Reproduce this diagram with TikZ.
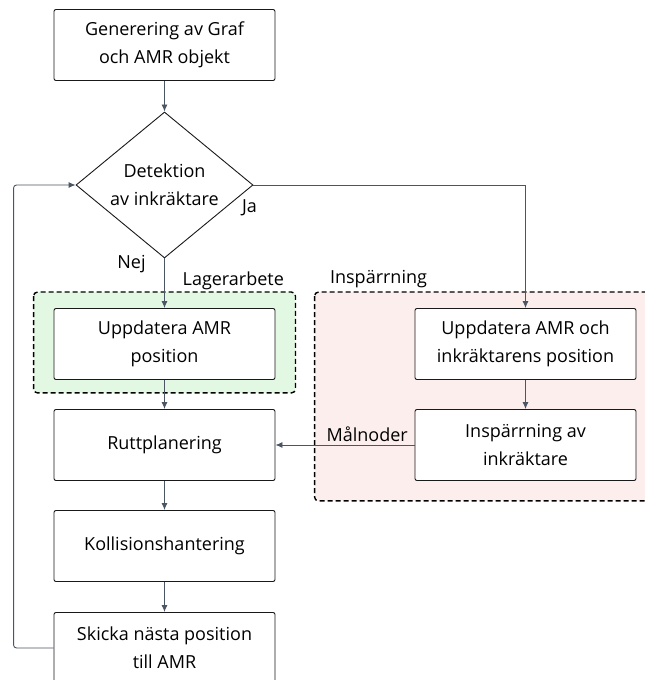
\documentclass[tikz,border=0pt]{standalone}
\usepackage{fontspec}
\setmainfont{Open Sans}
\usetikzlibrary{shapes,arrows.meta,calc,backgrounds}
\definecolor{linegray}{HTML}{4B5563}
\definecolor{lagerfill}{HTML}{E3F8E2}
\definecolor{sparrfill}{HTML}{FDEEEE}
\tikzstyle{block} = [draw=black!90, line width=0.9pt, fill=white, rectangle, rounded corners=2pt, minimum height=71pt, minimum width=221pt, align=center]
\tikzstyle{decision} = [draw=black!90, line width=0.9pt, fill=white, diamond, aspect=1.2, inner sep=0pt, minimum width=177pt, minimum height=146pt, align=center]
\tikzstyle{group} = [draw=black, line width=1.4pt, rounded corners=4pt, dash pattern=on 5pt off 3pt]
\tikzstyle{line} = [draw=linegray, line width=0.9pt]

\begin{document}
\begin{tikzpicture}[auto, x=1pt, y=1pt, node distance=101pt, >={Latex[length=7pt,width=6pt]}]
    \tikzset{font={\fontsize{18pt}{28pt}\selectfont}}
    \useasboundingbox (0,0) rectangle (645,680);
    \node [block] (gen) at (164.5,635) {Generering av Graf\\ och AMR objekt};
    \node [decision, below of=gen, node distance=140pt] (det) {Detektion\\ av inkräktare};
    \node [block, below of=det, node distance=159pt] (upd) {Uppdatera AMR\\ position};
    \node [block, below of=upd] (rutt) {Ruttplanering};
    \node [block, below of=rutt] (koll) {Kollisionshantering};
    \node [block, below of=koll, node distance=102pt] (skicka) {Skicka nästa position\\ till AMR};
    \node [block, right of=upd, node distance=361pt] (updink) {Uppdatera AMR och\\ inkräktarens position};
    \node [block, below of=updink] (spärr) {Inspärrning av\\ inkräktare};
    % grupper
    \begin{scope}[on background layer]
      \draw [group, fill=lagerfill] ($(upd.north west)+(-20,16)$) rectangle ($(upd.south east)+(20,-13)$);
      \draw [group, fill=sparrfill] ($(updink.north west)+(-100,16)$) rectangle ($(spärr.south east)+(20,-20)$);
    \end{scope}
    \node [anchor=base east] (lagertxt) at ($(upd.north east)+(12,23)$) {Lagerarbete};
    \node [anchor=base west] (sparrtxt) at ($(updink.north west)+(-88,25)$) {Inspärrning};
    \draw [line, ->] (gen) -- (det);
    \draw [line, ->] (det) -- node[at start, anchor=base, xshift=-33pt, yshift=-10pt] {Nej} (upd);
    \draw [line, ->] (det.east) -| node[at start, anchor=base, xshift=-4pt, yshift=-28pt] {Ja} (updink.north);
    \draw [line, ->] (upd) -- (rutt);
    \draw [line, ->] (rutt) -- (koll);
    \draw [line, ->] (koll) -- (skicka);
    \draw [line, ->] (updink) -- (spärr);
    \draw [line, ->] (spärr) -- node[at start, anchor=base east, xshift=-3pt, yshift=3pt] {Målnoder} (rutt);
    \draw [line, ->, rounded corners=3pt] (skicka.west) -- ++(-40,0) |- (det.west);
\end{tikzpicture}
\end{document}
